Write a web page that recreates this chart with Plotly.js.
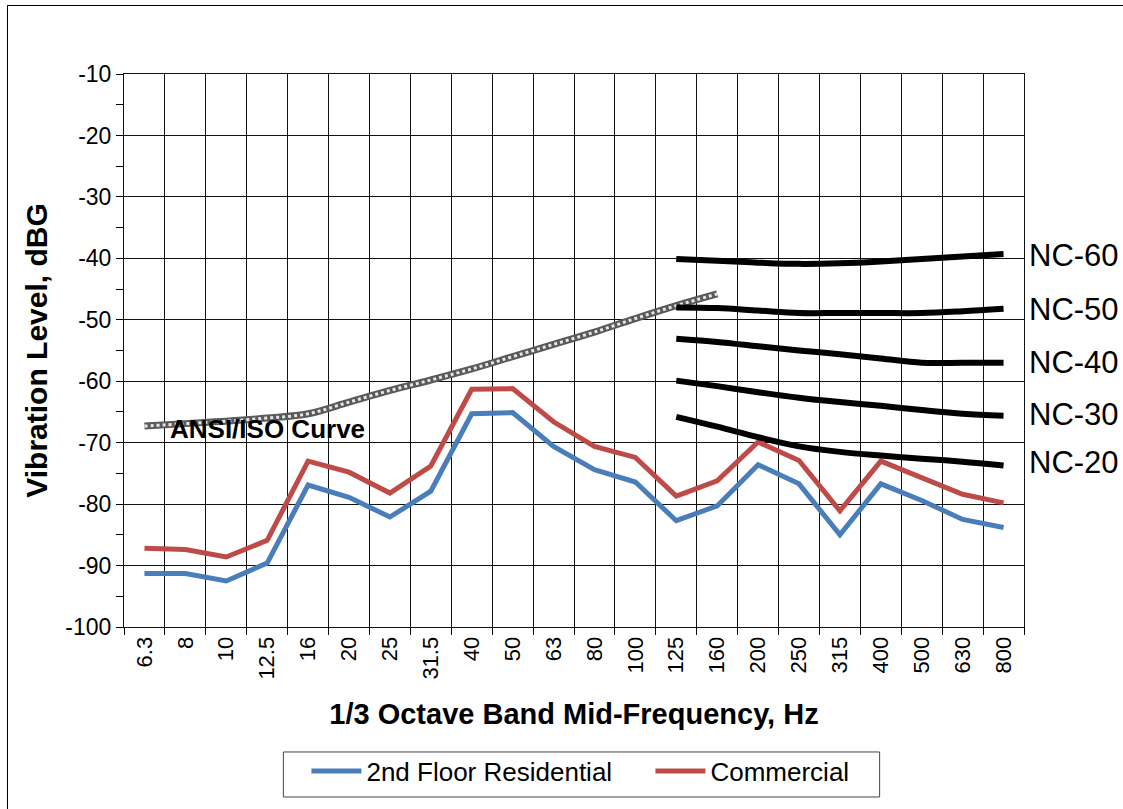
<!DOCTYPE html>
<html>
<head>
<meta charset="utf-8">
<script src="https://cdn.plot.ly/plotly-3.0.1.min.js"></script>
<style>
  html, body { margin: 0; padding: 0; background: #fff; }
  #wrap { position: relative; width: 1123px; height: 809px; }
  #chart { width: 1123px; height: 809px; }
  #frame { position: absolute; left: 7px; top: 5px; width: 1116px; height: 804px;
           border-left: 1.5px solid #000; border-top: 1.5px solid #000; pointer-events: none; }
</style>
</head>
<body>
<div id="wrap">
  <div id="chart"></div>
  <div id="frame"></div>
</div>
<script>
// Categories (1/3 octave band mid-frequencies, Hz)
const freqs = ["6.3","8","10","12.5","16","20","25","31.5","40","50","63","80","100","125","160","200","250","315","400","500","630","800"];

// Measured series (dBG)
const residential = [-91.3,-91.3,-92.5,-89.6,-76.9,-78.9,-82.1,-77.9,-65.3,-65.1,-70.6,-74.4,-76.4,-82.7,-80.3,-73.6,-76.7,-85.0,-76.7,-79.4,-82.5,-83.8];
const commercial  = [-87.2,-87.4,-88.6,-85.9,-73.0,-74.8,-78.2,-73.8,-61.3,-61.2,-66.6,-70.6,-72.4,-78.7,-76.2,-69.9,-72.9,-81.1,-73.0,-75.6,-78.4,-79.8];

// ANSI/ISO curve (6.3 – 160 Hz)
const ansiFreqs = ["6.3","8","10","12.5","16","20","25","31.5","40","50","63","80","100","125","160"];
const ansiCurve = [-67.3,-66.9,-66.5,-66.0,-65.3,-63.4,-61.5,-59.8,-58.0,-56.0,-54.0,-52.0,-49.8,-47.7,-45.8];

// NC curves (125 – 800 Hz)
const ncFreqs = ["125","160","200","250","315","400","500","630","800"];
const nc60 = [-40.1,-40.4,-40.7,-40.9,-40.8,-40.5,-40.1,-39.7,-39.3];
const nc50 = [-48.0,-48.1,-48.5,-48.9,-48.9,-48.9,-48.9,-48.6,-48.2];
const nc40 = [-53.1,-53.6,-54.3,-55.0,-55.6,-56.3,-57.0,-57.0,-57.0];
const nc30 = [-59.9,-60.8,-61.8,-62.7,-63.4,-64.0,-64.7,-65.3,-65.6];
const nc20 = [-65.8,-67.4,-69.1,-70.6,-71.5,-72.1,-72.6,-73.1,-73.7];
const ncNames = ["NC-60","NC-50","NC-40","NC-30","NC-20"];
const ncLabelY = [-39.6,-48.3,-56.9,-65.4,-73.3];

// Y tick labels (plain hyphen minus)
const yTickVals = [-100,-90,-80,-70,-60,-50,-40,-30,-20,-10];
const yTickText = ["-100","-90","-80","-70","-60","-50","-40","-30","-20","-10"];

const FONT = "Liberation Sans, Arial, sans-serif";

const traces = [
  { x: freqs, y: residential, type: "scatter", mode: "lines", name: "2nd Floor Residential",
    line: { color: "#4A7EBB", width: 5 } },
  { x: freqs, y: commercial, type: "scatter", mode: "lines", name: "Commercial",
    line: { color: "#BE4B48", width: 5 } },
  { x: ansiFreqs, y: ansiCurve, type: "scatter", mode: "lines", showlegend: false, hoverinfo: "skip",
    line: { color: "#5a5a5a", width: 7, shape: "spline" } },
  { x: ansiFreqs, y: ansiCurve, type: "scatter", mode: "lines", showlegend: false, hoverinfo: "skip",
    line: { color: "#e6e6e6", width: 3, dash: "dot", shape: "spline" } }
];
[nc60, nc50, nc40, nc30, nc20].forEach(function (v) {
  traces.push({ x: ncFreqs, y: v, type: "scatter", mode: "lines", showlegend: false, hoverinfo: "skip",
    line: { color: "#000", width: 6, shape: "spline" } });
});

const annotations = [
  { text: "<b>ANSI/ISO Curve</b>", xref: "x", yref: "y", x: 0.58, y: -67.8, xanchor: "left", yanchor: "middle",
    showarrow: false, font: { family: FONT, size: 26, color: "#000" } }
];
ncNames.forEach(function (n, i) {
  annotations.push({ text: n, xref: "paper", yref: "y", x: 1.003, y: ncLabelY[i], xanchor: "left", yanchor: "middle",
    showarrow: false, font: { family: FONT, size: 31, color: "#000" } });
});

const layout = {
  width: 1123, height: 809,
  margin: { l: 124, r: 99, t: 74, b: 182 },
  paper_bgcolor: "#fff", plot_bgcolor: "#fff",
  font: { family: FONT, size: 22, color: "#000" },
  showlegend: true,
  legend: {
    orientation: "h", x: 0.2027, xanchor: "left", y: -0.218, yanchor: "top",
    bgcolor: "rgba(0,0,0,0)", borderwidth: 0, font: { family: FONT, size: 26, color: "#000" },
    itemwidth: 50, entrywidth: 279, traceorder: "normal", tracegroupgap: 0
  },
  shapes: [
    { type: "rect", xref: "paper", yref: "paper", x0: 0.1771, x1: 0.8396, y0: -0.3074, y1: -0.2260,
      line: { color: "#444", width: 1 }, fillcolor: "rgba(0,0,0,0)" }
  ],
  xaxis: {
    type: "category", categoryorder: "array", categoryarray: freqs,
    range: [-0.5, 21.5], tickson: "boundaries", ticks: "outside", ticklen: 7, tickcolor: "#000",
    tickangle: -90, tickfont: { family: FONT, size: 22 },
    showgrid: true, gridcolor: "#111", gridwidth: 1,
    showline: true, linecolor: "#111", linewidth: 1, mirror: true,
    title: { text: "<b>1/3 Octave Band Mid-Frequency, Hz</b>", font: { family: FONT, size: 29 }, standoff: 25 },
    fixedrange: true
  },
  yaxis: {
    range: [-100, -10], tickmode: "array", tickvals: yTickVals, ticktext: yTickText,
    ticks: "outside", ticklen: 7, tickcolor: "#000",
    tickfont: { family: FONT, size: 23 },
    minor: { tickmode: "linear", tick0: -100, dtick: 5, ticks: "outside", ticklen: 7, tickcolor: "#000", showgrid: false },
    showgrid: true, gridcolor: "#111", gridwidth: 1, zeroline: false,
    showline: true, linecolor: "#111", linewidth: 1, mirror: true,
    title: { text: "<b>Vibration Level, dBG</b>", font: { family: FONT, size: 30 }, standoff: 8 },
    fixedrange: true
  },
  annotations: annotations
};

Plotly.newPlot("chart", traces, layout, { displayModeBar: false, staticPlot: true });
</script>
</body>
</html>
